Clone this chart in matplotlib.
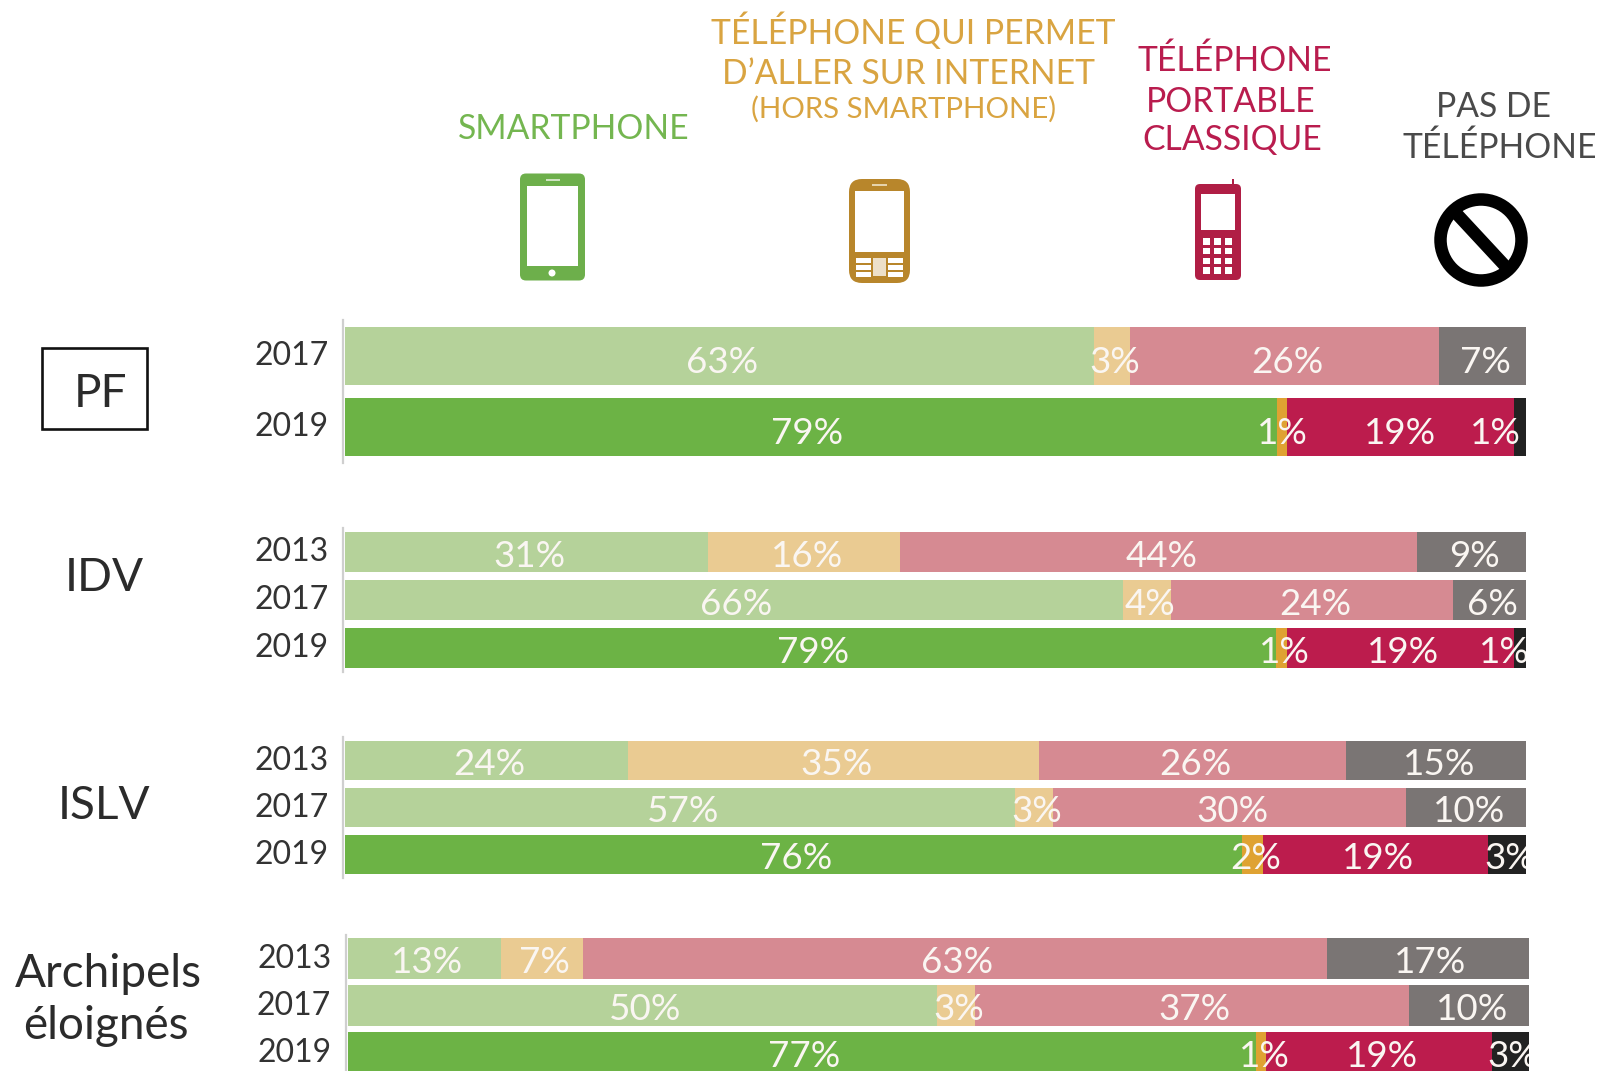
import matplotlib
matplotlib.use("Agg")
import matplotlib.pyplot as plt
from matplotlib.patches import Rectangle, FancyBboxPatch, Circle
from matplotlib.transforms import ScaledTranslation

plt.rcParams['font.family'] = ['Lato', 'DejaVu Sans']

# values measured off the bars (% of bar length), labels as printed
years_pf = ["2017", "2019"]
smart_pf = [63.5, 79.0]
web_pf = [3.0, 0.8]
basic_pf = [26.2, 19.2]
none_pf = [7.3, 1.0]
labels_pf = [["63%", "3%", "26%", "7%"], ["79%", "1%", "19%", "1%"]]

years_idv = ["2013", "2017", "2019"]
smart_idv = [30.8, 65.9, 78.9]
web_idv = [16.2, 4.1, 0.9]
basic_idv = [43.8, 23.9, 19.2]
none_idv = [9.2, 6.1, 1.0]
labels_idv = [["31%", "16%", "44%", "9%"], ["66%", "4%", "24%", "6%"], ["79%", "1%", "19%", "1%"]]

years_islv = ["2013", "2017", "2019"]
smart_islv = [24.0, 56.8, 76.0]
web_islv = [34.8, 3.2, 1.8]
basic_islv = [26.0, 29.9, 19.0]
none_islv = [15.2, 10.1, 3.2]
labels_islv = [["24%", "35%", "26%", "15%"], ["57%", "3%", "30%", "10%"], ["76%", "2%", "19%", "3%"]]

years_arch = ["2013", "2017", "2019"]
smart_arch = [13.0, 49.9, 76.9]
web_arch = [6.9, 3.2, 0.9]
basic_arch = [63.0, 36.8, 19.1]
none_arch = [17.1, 10.1, 3.1]
labels_arch = [["13%", "7%", "63%", "17%"], ["50%", "3%", "37%", "10%"], ["77%", "1%", "19%", "3%"]]

# light = older years, strong = 2019
light = ["#B5D29A", "#EACB92", "#D68A92", "#7A7574"]
strong = ["#6CB345", "#DFA232", "#BC1C4D", "#222222"]

W, H = 1600, 1071
BAR_FONT = 26.5
YEAR_FONT = 23
GROUP_FONT = 33
HEAD_FONT = 24.2

fig = plt.figure(figsize=(W / 100, H / 100), dpi=100)
fig.patch.set_facecolor("white")


def draw_group(left, right, top, bottom, years, series, labels, bar_h, nudge=None):
    ax = fig.add_axes([left / W, 1 - bottom / H, (right - left) / W, (bottom - top) / H])
    ax.set_xlim(0, 100)
    ax.set_ylim(len(years) - 0.5, -0.5)
    ax.patch.set_alpha(0)
    for name in ["top", "right", "bottom"]:
        ax.spines[name].set_visible(False)
    ax.spines["left"].set_color("#cfcfcf")
    ax.spines["left"].set_linewidth(1.6)
    ax.spines["left"].set_position(("outward", 1.2))
    ax.set_xticks([])
    ax.set_yticks(range(len(years)))
    ax.set_yticklabels(years, fontsize=YEAR_FONT, color="#333333")
    ax.tick_params(axis="y", length=0, pad=10.5)
    # year labels sit a little above the bar centres
    up = ScaledTranslation(0, 2 / 72, fig.dpi_scale_trans)
    for lab in ax.get_yticklabels():
        lab.set_transform(lab.get_transform() + up)

    for i in range(len(years)):
        start = 0
        colors = strong if years[i] == "2019" else light
        for j, s in enumerate(series):
            ax.barh(i, s[i], left=start, height=bar_h, color=colors[j], linewidth=0)
            x = start + s[i] / 2 + 0.25
            if nudge and (i, j) in nudge:
                x += nudge[(i, j)]
            ax.text(x, i + 0.09, labels[i][j], ha="center", va="center", fontsize=BAR_FONT,
                    color="#FAF6F2", clip_on=True)
            start += s[i]
    return ax


draw_group(344.5, 1525.5, 320, 463, years_pf, [smart_pf, web_pf, basic_pf, none_pf],
           labels_pf, 0.81, nudge={(1, 0): -0.6, (1, 1): -0.2, (1, 2): -0.3, (1, 3): -2.3})
draw_group(344.5, 1525.5, 528, 672, years_idv, [smart_idv, web_idv, basic_idv, none_idv],
           labels_idv, 0.84, nudge={(2, 3): -1.5})
draw_group(344.5, 1525.5, 737, 878, years_islv, [smart_islv, web_islv, basic_islv, none_islv],
           labels_islv, 0.84)
draw_group(347.5, 1528.5, 935, 1076, years_arch, [smart_arch, web_arch, basic_arch, none_arch],
           labels_arch, 0.87)

# overlay in pixel coords for headers, group names and icons
ov = fig.add_axes([0, 0, 1, 1])
ov.set_xlim(0, W)
ov.set_ylim(H, 0)
ov.axis("off")
ov.patch.set_alpha(0)

ov.add_patch(Rectangle((41.5, 348), 105.5, 81, fill=False, edgecolor="#111111", linewidth=1.9))
group_names = [("PF", 100, 394), ("IDV", 104, 578), ("ISLV", 104, 806),
               ("Archipels", 108, 974), ("éloignés", 106, 1026)]
for name, x, y in group_names:
    ov.text(x, y, name, ha="center", va="center", fontsize=GROUP_FONT, color="#2b2b2b")

GREEN, GOLD, RED, GREY = "#74B650", "#D9A441", "#B91C4E", "#4A4A4A"
headers = [("SMARTPHONE", 573.5, 129, GREEN, HEAD_FONT),
           ("TÉLÉPHONE QUI PERMET", 913, 31, GOLD, HEAD_FONT),
           ("D’ALLER SUR INTERNET", 909, 73.5, GOLD, HEAD_FONT),
           ("(HORS SMARTPHONE)", 904, 109, GOLD, 21.2),
           ("TÉLÉPHONE", 1235, 61, RED, HEAD_FONT),
           ("PORTABLE", 1231, 102, RED, HEAD_FONT),
           ("CLASSIQUE", 1232, 140, RED, HEAD_FONT),
           ("PAS DE", 1493, 107, GREY, HEAD_FONT),
           ("TÉLÉPHONE", 1500, 148, GREY, HEAD_FONT)]
for txt, x, y, col, size in headers:
    ov.text(x, y, txt, ha="center", va="center", fontsize=size, color=col)


def rounded(x, y, w, h, r, color):
    ov.add_patch(FancyBboxPatch((x + r, y + r), w - 2 * r, h - 2 * r,
                                boxstyle=f"round,pad={r},rounding_size={r}",
                                facecolor=color, edgecolor="none"))


def rect(x, y, w, h, color):
    ov.add_patch(Rectangle((x, y), w, h, facecolor=color, edgecolor="none"))


# smartphone
rounded(520, 173.5, 65, 107, 6, "#6DAF4B")
rect(527, 186, 51, 80, "white")
rect(546, 179, 14, 2, "#CFE3C2")
ov.add_patch(Circle((552, 273), 3.5, facecolor="white", edgecolor="none"))

# phone with keypad
rounded(849, 179, 61, 104, 13, "#B8862B")
rect(855, 191, 49, 61, "white")
rect(872, 183.5, 15, 2, "#E6D3AC")
for ky in [258, 265, 272]:
    rect(856, ky, 15, 4.5, "white")
    rect(888, ky, 15, 4.5, "white")
ov.add_patch(Rectangle((873, 258), 13, 18, facecolor="white", edgecolor="none", alpha=0.75))

# basic phone
rect(1232, 179, 2, 10, "#B01E45")
rounded(1195, 184, 46, 96, 5, "#B01E45")
rect(1201, 194, 34, 36, "white")
for row in range(4):
    for col in range(3):
        rect(1203 + col * 11, 238 + row * 9.8, 7, 6.5, "white")

# no phone sign
ov.add_patch(Circle((1481, 240), 40.5, facecolor="none", edgecolor="black", linewidth=9))
ov.plot([1455, 1507], [212, 268], color="black", linewidth=9, solid_capstyle="butt")

fig.savefig("out.png", dpi=100)
